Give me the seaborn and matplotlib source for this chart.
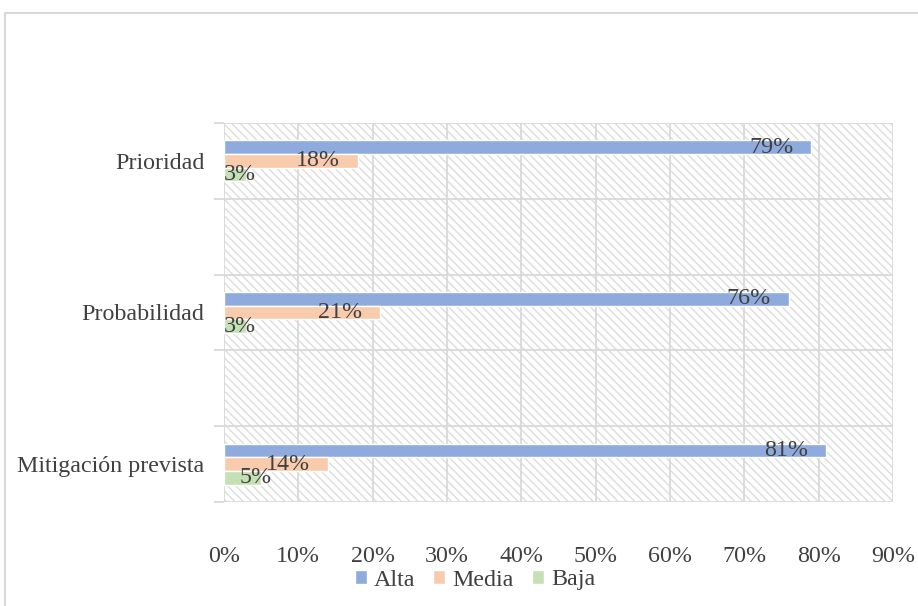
import matplotlib
matplotlib.use("Agg")
import matplotlib.pyplot as plt
from matplotlib.patches import Rectangle
from matplotlib.ticker import FixedLocator
import seaborn as sns
import pandas as pd
import numpy as np

# data
categories = ["Prioridad", "Probabilidad", "Mitigación prevista"]
levels = ["Alta", "Media", "Baja"]
alta = [0.79, 0.76, 0.81]
media = [0.18, 0.21, 0.14]
baja = [0.03, 0.03, 0.05]
xticks = [0.0, 0.1, 0.2, 0.3, 0.4, 0.5, 0.6, 0.7, 0.8, 0.9]

colors = {"Alta": "#8FAADC", "Media": "#F8CBAD", "Baja": "#C5E0B4"}
grid_col = "#D9D9D9"
hatch_col = "#DDDDDD"
text_col = "#404040"
fsize = 17.3

rows = []
for cat, a, m, b in zip(categories, alta, media, baja):
    rows += [(cat, "Alta", a), (cat, "Media", m), (cat, "Baja", b)]
df = pd.DataFrame(rows, columns=["categoria", "nivel", "valor"])

# Excel leaves an empty row between the categories
order = ["Prioridad", "gap1", "Probabilidad", "gap2", "Mitigación prevista"]

sns.set_style("white")
plt.rcParams["font.family"] = ["Liberation Serif", "DejaVu Serif"]
plt.rcParams["hatch.color"] = hatch_col
plt.rcParams["hatch.linewidth"] = 1.0

fig = plt.figure(figsize=(9.18, 6.06), dpi=100)
ax = fig.add_axes([224 / 918, 1 - 502 / 606, (893 - 224) / 918, (502 - 123) / 606])

# hatched plot area
ax.add_patch(Rectangle((0, 0), 1, 1, transform=ax.transAxes, facecolor="white",
                       edgecolor=hatch_col, hatch="\\\\\\\\", linewidth=0, zorder=0))

sns.barplot(data=df, x="valor", y="categoria", hue="nivel", order=order,
            hue_order=levels, palette=colors, orient="h", width=0.54,
            saturation=1, errorbar=None, ax=ax, zorder=2)

ax.set_xlim(0, 0.9)
ax.set_ylim(4.5, -0.5)
ax.set_xticks(xticks)
ax.set_xticklabels([f"{int(round(t * 100))}%" for t in xticks])
ax.set_yticks([0, 2, 4])
ax.set_yticklabels(categories)
ax.yaxis.set_minor_locator(FixedLocator(np.arange(-0.5, 5, 1)))
ax.set_xlabel("")
ax.set_ylabel("")

ax.grid(True, which="major", axis="x", color=grid_col, linewidth=1.3, zorder=1)
ax.grid(True, which="minor", axis="y", color=grid_col, linewidth=1.3, zorder=1)
ax.set_axisbelow(True)
for s in ax.spines.values():
    s.set_visible(False)

ax.tick_params(axis="x", length=0, pad=32, labelsize=fsize, labelcolor=text_col)
ax.tick_params(axis="y", which="major", length=0, pad=14, labelsize=fsize, labelcolor=text_col)
ax.tick_params(axis="y", which="minor", length=7, width=1.3, color=grid_col, left=True)

# value labels
for cont, lev in zip(ax.containers, levels):
    for bar in cont:
        w = bar.get_width()
        if np.isnan(w) or w == 0:
            continue
        yc = bar.get_y() + bar.get_height() / 2
        if w < 0.08:
            ax.annotate(f"{w:.0%}", (w, yc), xytext=(-6, 0), textcoords="offset pixels",
                        ha="center", va="center", fontsize=fsize, color=text_col, zorder=3)
        else:
            ax.annotate(f"{w:.0%}", (w, yc), xytext=(-18, 0), textcoords="offset pixels",
                        ha="right", va="center", fontsize=fsize, color=text_col, zorder=3)

handles = [Rectangle((0, 0), 1, 1, facecolor=colors[l]) for l in levels]
ax.legend(handles, levels, loc="center", bbox_to_anchor=(475 / 918, 1 - 580 / 606),
          bbox_transform=fig.transFigure, ncol=3, frameon=False, fontsize=fsize,
          handlelength=0.5, handleheight=0.5, handletextpad=0.3, columnspacing=0.75,
          labelcolor=text_col, borderpad=0.1)

# chart border
fig.add_artist(Rectangle((5 / 918, -0.1), 1.2, 1 - 13 / 606 + 0.1, transform=fig.transFigure,
                         facecolor="none", edgecolor=grid_col, linewidth=1.5, clip_on=False))

fig.savefig("out.png", dpi=100)
